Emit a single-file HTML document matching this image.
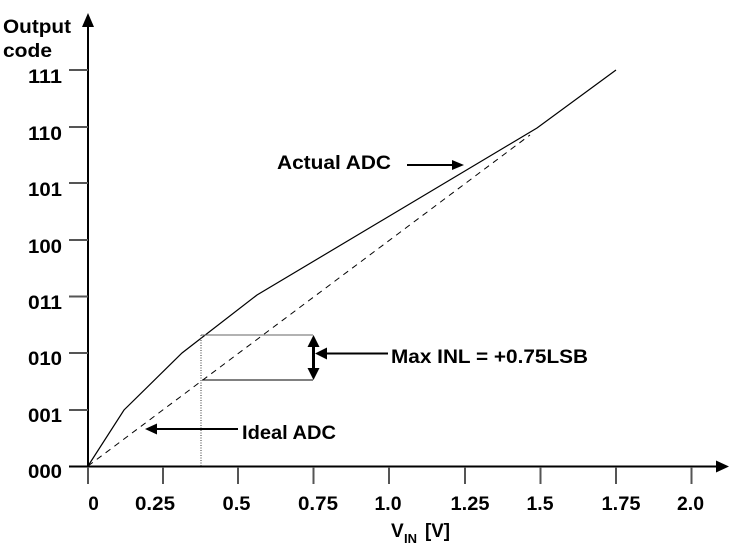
<!DOCTYPE html>
<html><head><meta charset="utf-8"><style>
html,body{margin:0;padding:0;background:#fff;}
svg{display:block;}
text{font-family:"Liberation Sans",Arial,sans-serif;font-weight:bold;fill:#000;}
</style></head><body>
<svg width="739" height="549" viewBox="0 0 739 549" xmlns="http://www.w3.org/2000/svg">
<!-- axes -->
<line x1="88" y1="24" x2="88" y2="467" stroke="#000" stroke-width="2"/>
<polygon points="88,13 82,27 94,27" fill="#000"/>
<line x1="69" y1="466.5" x2="718" y2="466.5" stroke="#000" stroke-width="2"/>
<polygon points="729,466.5 716,460.5 716,472.5" fill="#000"/>
<!-- y ticks -->
<g stroke="#555" stroke-width="2">
<line x1="69" y1="70" x2="88" y2="70"/>
<line x1="69" y1="127" x2="88" y2="127"/>
<line x1="69" y1="183" x2="88" y2="183"/>
<line x1="69" y1="240" x2="88" y2="240"/>
<line x1="69" y1="296.5" x2="88" y2="296.5"/>
<line x1="69" y1="353" x2="88" y2="353"/>
<line x1="69" y1="410" x2="88" y2="410"/>
</g>
<!-- x ticks -->
<g stroke="#555" stroke-width="2">
<line x1="88" y1="467" x2="88" y2="484"/>
<line x1="163" y1="467" x2="163" y2="484"/>
<line x1="238" y1="467" x2="238" y2="484"/>
<line x1="313.5" y1="467" x2="313.5" y2="484"/>
<line x1="389" y1="467" x2="389" y2="484"/>
<line x1="465" y1="467" x2="465" y2="484"/>
<line x1="540.5" y1="467" x2="540.5" y2="484"/>
<line x1="616" y1="467" x2="616" y2="484"/>
<line x1="691.5" y1="467" x2="691.5" y2="484"/>
</g>
<!-- y labels -->
<g font-size="19" text-anchor="end">
<text x="62" y="83" textLength="34" lengthAdjust="spacingAndGlyphs">111</text>
<text x="62" y="140" textLength="34" lengthAdjust="spacingAndGlyphs">110</text>
<text x="62" y="196" textLength="34" lengthAdjust="spacingAndGlyphs">101</text>
<text x="62" y="253" textLength="34" lengthAdjust="spacingAndGlyphs">100</text>
<text x="62" y="309" textLength="34" lengthAdjust="spacingAndGlyphs">011</text>
<text x="62" y="365" textLength="34" lengthAdjust="spacingAndGlyphs">010</text>
<text x="62" y="422" textLength="34" lengthAdjust="spacingAndGlyphs">001</text>
<text x="62" y="478" textLength="34" lengthAdjust="spacingAndGlyphs">000</text>
</g>
<!-- x labels -->
<g font-size="19" text-anchor="middle">
<text x="93.5" y="510">0</text>
<text x="155" y="510" textLength="40" lengthAdjust="spacingAndGlyphs">0.25</text>
<text x="236.5" y="510" textLength="28" lengthAdjust="spacingAndGlyphs">0.5</text>
<text x="318" y="510" textLength="40" lengthAdjust="spacingAndGlyphs">0.75</text>
<text x="388" y="510" textLength="27" lengthAdjust="spacingAndGlyphs">1.0</text>
<text x="470" y="510" textLength="39" lengthAdjust="spacingAndGlyphs">1.25</text>
<text x="540" y="510" textLength="27" lengthAdjust="spacingAndGlyphs">1.5</text>
<text x="621" y="510" textLength="39" lengthAdjust="spacingAndGlyphs">1.75</text>
<text x="690.5" y="510" textLength="27" lengthAdjust="spacingAndGlyphs">2.0</text>
</g>
<!-- axis titles -->
<text x="3" y="33" font-size="19" textLength="68" lengthAdjust="spacingAndGlyphs">Output</text>
<text x="3" y="57" font-size="19" textLength="49" lengthAdjust="spacingAndGlyphs">code</text>
<text x="391" y="537" font-size="19">V</text>
<text x="404" y="543" font-size="13" textLength="13" lengthAdjust="spacingAndGlyphs">IN</text>
<text x="425" y="537" font-size="19" textLength="25" lengthAdjust="spacingAndGlyphs">[V]</text>
<!-- ideal dashed -->
<line x1="88" y1="466" x2="530" y2="135" stroke="#000" stroke-width="1" stroke-dasharray="6,5"/>
<!-- actual -->
<polyline points="88,466 124,410 182,353 257,295 537,128 616,70" fill="none" stroke="#000" stroke-width="1.2"/>
<!-- INL markers -->
<line x1="201" y1="335" x2="201" y2="466" stroke="#333" stroke-width="1" stroke-dasharray="1,1.5"/>
<line x1="201" y1="335" x2="313" y2="335" stroke="#666" stroke-width="1"/>
<line x1="202" y1="380" x2="313" y2="380" stroke="#000" stroke-width="1"/>
<line x1="313.5" y1="345" x2="313.5" y2="370" stroke="#000" stroke-width="3"/>
<polygon points="313.5,335 307.5,347 319.5,347" fill="#000"/>
<polygon points="313.5,380 307.5,368 319.5,368" fill="#000"/>
<line x1="325" y1="353.5" x2="388" y2="353.5" stroke="#000" stroke-width="2"/>
<polygon points="315,353.5 327,347.5 327,359.5" fill="#000"/>
<text x="391" y="363" font-size="19" textLength="197" lengthAdjust="spacingAndGlyphs">Max INL = +0.75LSB</text>
<!-- Actual ADC label -->
<text x="277" y="169" font-size="19" textLength="114" lengthAdjust="spacingAndGlyphs">Actual ADC</text>
<line x1="407" y1="165" x2="453" y2="165" stroke="#000" stroke-width="2"/>
<polygon points="464,165 452,160 452,170" fill="#000"/>
<!-- Ideal ADC label -->
<line x1="155" y1="429" x2="238" y2="429" stroke="#000" stroke-width="2"/>
<polygon points="145,429 157,423.5 157,434.5" fill="#000"/>
<text x="242" y="439" font-size="19" textLength="94" lengthAdjust="spacingAndGlyphs">Ideal ADC</text>
</svg>
</body></html>
